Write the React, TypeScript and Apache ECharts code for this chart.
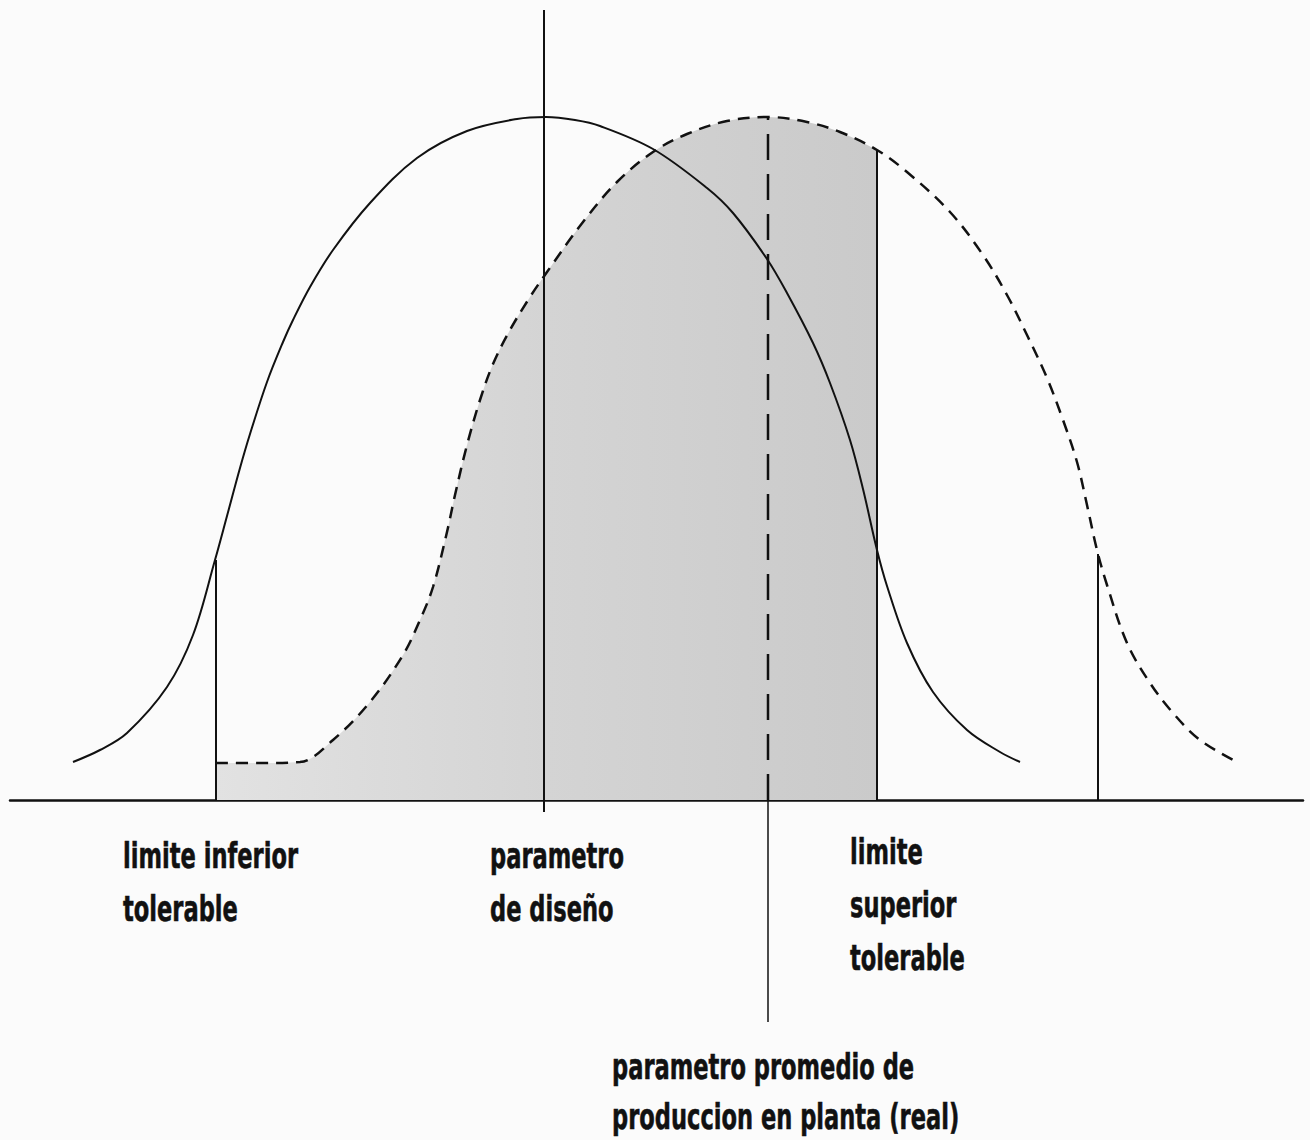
import React, { useEffect, useRef } from "react";
import * as echarts from "echarts";

// Solid curve: design distribution (x position, height above the base line)
const designX = [73, 100, 127, 167, 193, 215, 227, 240, 250, 267, 283, 293, 310, 333, 370, 417, 467, 517, 546, 575, 600, 653, 707, 733, 767, 787, 813, 830, 850, 863, 877, 887, 907, 933, 967, 1000, 1020];
const designY = [38, 50, 67, 113, 165, 240, 284, 332, 366, 418, 458, 480, 513, 550, 597, 642, 669, 681, 683, 680, 674, 651, 612, 587, 541, 507, 457, 417, 360, 311, 250, 214, 157, 108, 70, 48, 38];

// Dashed curve: real production distribution
const realX = [216, 260, 300, 333, 370, 403, 420, 433, 447, 455, 467, 480, 493, 510, 530, 547, 583, 617, 653, 687, 727, 768, 807, 840, 877, 907, 950, 983, 1007, 1027, 1047, 1063, 1077, 1087, 1097, 1107, 1127, 1150, 1173, 1200, 1237];
const realY = [37, 37, 38, 60, 98, 145, 180, 213, 268, 305, 355, 400, 436, 470, 503, 528, 578, 618, 648, 666, 679, 683, 678, 668, 650, 628, 588, 545, 505, 465, 422, 380, 338, 295, 250, 215, 157, 117, 87, 60, 38];

// Vertical reference lines
const lineNames = ["limite inferior", "parametro de diseño", "promedio real", "limite superior", "limite real"];
const lineX = [216, 544, 768, 877, 1098];
const lineTop = [240, 790, 683, 650, 246];
const lineBottom = [0, -12, 0, 0, 0];
const lineDashed = [false, false, true, false, false];

// Extension of the real-mean line below the base line
const meanExtX = 768;
const meanExtBottom = -222;

// Tolerance limits for the shaded area
const shadeFrom = 216;
const shadeTo = 877;

// Labels (text lines)
const labelLines = [
  "limite inferior", "tolerable",
  "parametro", "de diseño",
  "limite", "superior", "tolerable",
  "parametro promedio de", "produccion en planta (real)",
];

const X_MIN = 10;
const X_MAX = 1303;
const Y_MIN = -240;
const Y_MAX = 800;

export default function App() {
  const ref = useRef<HTMLDivElement>(null);

  useEffect(() => {
    if (!ref.current) return;
    const chart = echarts.init(ref.current, undefined, { renderer: "svg" });

    const design = designX.map((x, i) => [x, designY[i]]);
    const real = realX.map((x, i) => [x, realY[i]]);
    const shade = real.filter((p) => p[0] >= shadeFrom && p[0] <= shadeTo);

    const verticals: any[] = lineX.map((x, i) => ({
      name: lineNames[i],
      type: "line",
      data: [[x, lineBottom[i]], [x, lineTop[i]]],
      symbol: "none",
      clip: false,
      silent: true,
      z: 4,
      lineStyle: {
        color: "#111",
        width: lineDashed[i] ? 2.5 : 2,
        type: lineDashed[i] ? [26, 14] : "solid",
      },
    }));

    const labelPos = [
      [123, 856], [123, 909],
      [490, 856], [490, 909],
      [850, 852], [850, 905], [850, 958],
      [612, 1067], [612, 1117],
    ];

    const graphics = labelLines.map((t, i) => ({
      type: "text",
      x: labelPos[i][0],
      y: labelPos[i][1],
      scaleX: 0.645,
      style: {
        text: t,
        fill: "#111",
        stroke: "#111",
        lineWidth: 0.6,
        font: "bold 35px 'DejaVu Sans'",
        align: "left",
        verticalAlign: "middle",
      },
      z: 10,
    }));

    chart.setOption({
      animation: false,
      backgroundColor: "#fbfbfb",
      grid: { left: X_MIN, right: 1310 - X_MAX, top: 0, height: Y_MAX - Y_MIN },
      xAxis: {
        type: "value",
        min: X_MIN,
        max: X_MAX,
        axisLine: { show: true, onZero: true, lineStyle: { color: "#111", width: 2.5 } },
        axisTick: { show: false },
        axisLabel: { show: false },
        splitLine: { show: false },
      },
      yAxis: {
        type: "value",
        min: Y_MIN,
        max: Y_MAX,
        show: false,
        splitLine: { show: false },
      },
      series: [
        {
          name: "zona tolerable",
          type: "line",
          data: shade,
          smooth: 0.35,
          symbol: "none",
          silent: true,
          z: 1,
          lineStyle: { width: 0 },
          areaStyle: {
            color: new echarts.graphic.LinearGradient(0, 0, 1, 0, [
              { offset: 0, color: "#e2e2e2" },
              { offset: 0.5, color: "#d4d4d4" },
              { offset: 1, color: "#cacaca" },
            ]),
            opacity: 1,
          },
        },
        {
          name: "diseño",
          type: "line",
          data: design,
          smooth: 0.35,
          symbol: "none",
          silent: true,
          z: 5,
          lineStyle: { color: "#111", width: 2 },
        },
        {
          name: "real",
          type: "line",
          data: real,
          smooth: 0.35,
          symbol: "none",
          silent: true,
          z: 5,
          lineStyle: { color: "#111", width: 2.5, type: [12, 8] },
        },
        ...verticals,
        {
          name: "promedio real (extension)",
          type: "line",
          data: [[meanExtX, 0], [meanExtX, meanExtBottom]],
          symbol: "none",
          clip: false,
          silent: true,
          z: 4,
          lineStyle: { color: "#111", width: 1.5 },
        },
      ],
      graphic: graphics,
    });

    return () => chart.dispose();
  }, []);

  return (
    <div
      ref={ref}
      style={{ position: "fixed", left: 0, top: 0, width: 1310, height: 1140 }}
    />
  );
}
